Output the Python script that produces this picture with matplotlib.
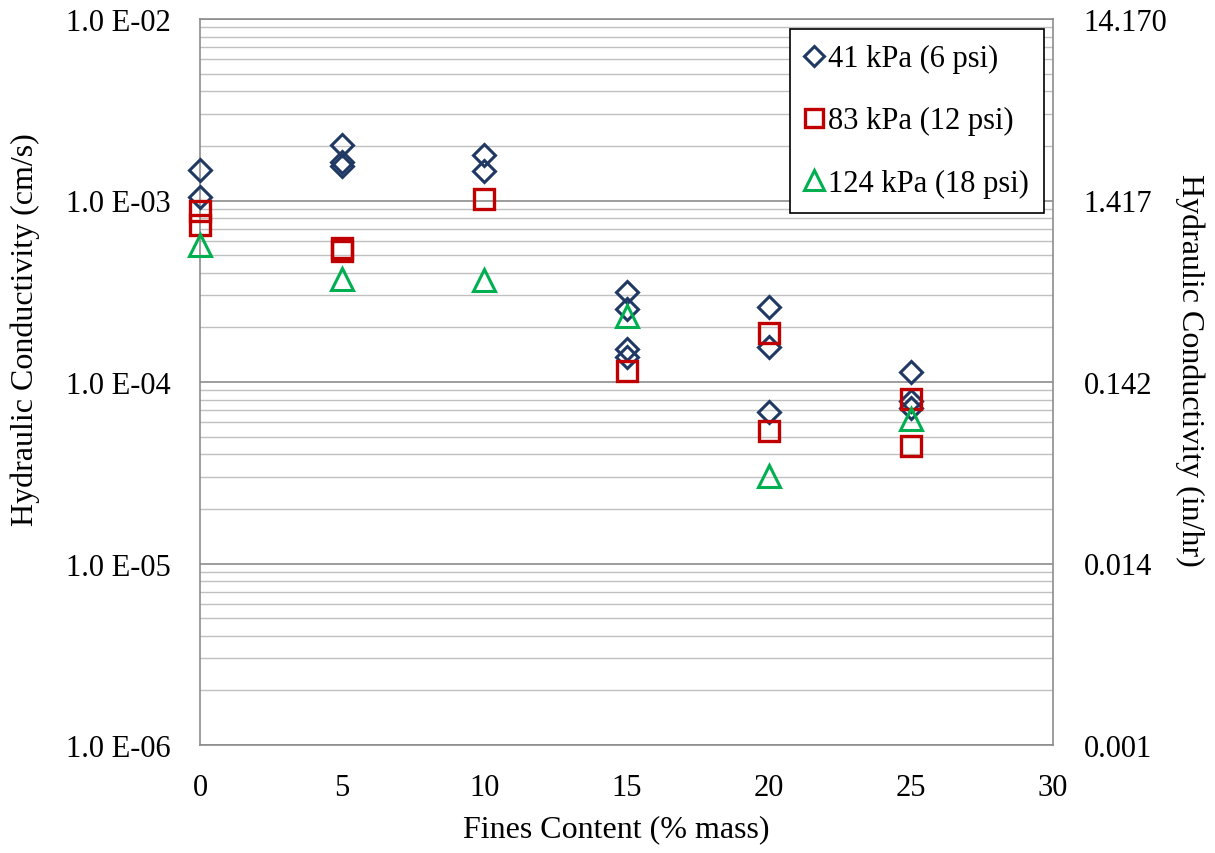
import matplotlib
matplotlib.use("Agg")
import matplotlib.pyplot as plt
from matplotlib.ticker import LogLocator, FixedLocator, NullFormatter

plt.rcParams['font.family'] = ['Liberation Serif', 'DejaVu Serif']

# Data (hydraulic conductivity, cm/s)
x_41 = [0, 0, 5, 5, 5, 10, 10, 15, 15, 15, 15, 20, 20, 20, 25, 25, 25]
k_41 = [1.47e-3, 1.05e-3, 2.03e-3, 1.62e-3, 1.54e-3, 1.79e-3, 1.45e-3,
        3.12e-4, 2.52e-4, 1.52e-4, 1.37e-4, 2.58e-4, 1.55e-4, 6.8e-5,
        1.14e-4, 7.9e-5, 7.2e-5]
x_83 = [0, 0, 5, 5, 10, 15, 20, 20, 25, 25]
k_83 = [8.8e-4, 7.3e-4, 5.5e-4, 5.3e-4, 1.02e-3, 1.15e-4, 1.86e-4, 5.4e-5,
        8.05e-5, 4.46e-5]
x_124 = [0, 5, 10, 15, 20, 25]
k_124 = [5.7e-4, 3.69e-4, 3.66e-4, 2.30e-4, 3.05e-5, 6.25e-5]

labels = ["41 kPa (6 psi)", "83 kPa (12 psi)", "124 kPa (18 psi)"]
left_ticks = [1e-6, 1e-5, 1e-4, 1e-3, 1e-2]
left_labels = ["1.0 E-06", "1.0 E-05", "1.0 E-04", "1.0 E-03", "1.0 E-02"]
right_labels = ["0.001", "0.014", "0.142", "1.417", "14.170"]
x_ticks = [0, 5, 10, 15, 20, 25, 30]

fig = plt.figure(figsize=(12.15, 8.54), dpi=100)
ax = fig.add_axes([200/1215, 1-746/854, (1053-200)/1215, (746-20)/854])

ax.set_yscale('log')
ax.set_xlim(0, 30)
ax.set_ylim(1e-6, 1e-2)

ax.yaxis.set_major_locator(FixedLocator(left_ticks))
ax.set_yticklabels(left_labels)
ax.yaxis.set_minor_locator(LogLocator(base=10, subs=range(2, 10)))
ax.yaxis.set_minor_formatter(NullFormatter())
ax.set_xticks(x_ticks)

ax.grid(which='major', axis='y', color='#8c8c8c', lw=1.2, zorder=0)
ax.grid(which='minor', axis='y', color='#c0c0c0', lw=1.0, zorder=0)
ax.grid(which='major', axis='x', color='white', lw=1.0, ls=(0, (4, 3)), zorder=0.5)
ax.set_axisbelow(True)

navy = '#1f3864'
red = '#c00000'
green = '#00b050'

ax.plot(x_41, k_41, ls='none', marker='D', ms=11.3, mfc='none', mec=navy,
        mew=2.2, label=labels[0], zorder=3, clip_on=False)
ax.plot(x_83, k_83, ls='none', marker='s', ms=14.5, mfc='none', mec=red,
        mew=2.4, label=labels[1], zorder=3, clip_on=False)
ax.plot(x_124, k_124, ls='none', marker='^', ms=16.5, mfc='none', mec=green,
        mew=2.2, label=labels[2], zorder=3, clip_on=False)

for side in ['left', 'right', 'top', 'bottom']:
    ax.spines[side].set_color('#8c8c8c')
    ax.spines[side].set_linewidth(1.2)

ax.tick_params(axis='x', which='major', labelsize=22, length=0, pad=20)
ax.tick_params(axis='y', which='major', labelsize=22, length=0, pad=21)
ax.tick_params(axis='y', which='minor', length=0)

ax.set_xlabel("Fines Content (% mass)", fontsize=23)
ax.xaxis.set_label_coords(0.488, (746-830)/726, transform=ax.transAxes)
ax.set_ylabel("Hydraulic Conductivity (cm/s)", fontsize=23)
ax.yaxis.set_label_coords((25-200)/853, (746-330)/726, transform=ax.transAxes)
ax.xaxis.label.set_va('center')
ax.yaxis.label.set_va('center')

ax2 = ax.twinx()
ax2.set_yscale('log')
ax2.set_ylim(1e-6, 1e-2)
ax2.yaxis.set_major_locator(FixedLocator(left_ticks))
ax2.set_yticklabels(right_labels)
ax2.yaxis.set_minor_locator(FixedLocator([]))
ax2.tick_params(axis='y', which='major', labelsize=22, length=0, pad=22)
for side in ['left', 'right', 'top', 'bottom']:
    ax2.spines[side].set_visible(False)
ax2.set_ylabel("Hydraulic Conductivity (in/hr)", fontsize=23, rotation=270)
ax2.yaxis.set_label_coords((1190-200)/853, (746-370)/726, transform=ax2.transAxes)
ax2.yaxis.label.set_va('center')

leg = ax.legend(loc='upper left', bbox_to_anchor=(790/1215, 1-30/854),
                bbox_transform=fig.transFigure, fontsize=22, frameon=True,
                fancybox=False, edgecolor='black', framealpha=1,
                labelspacing=1.08, handlelength=0.55, handletextpad=0.2,
                borderpad=0.5, borderaxespad=0, markerscale=0.9)
leg.get_frame().set_linewidth(1.2)
leg.set_zorder(5)

fig.savefig("out.png", dpi=100)
